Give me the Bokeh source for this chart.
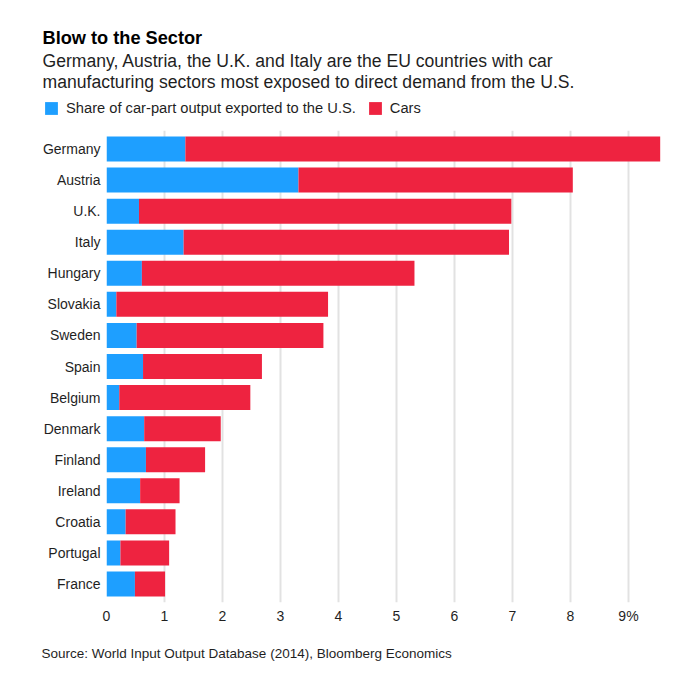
from bokeh.plotting import figure
from bokeh.layouts import column
from bokeh.models import ColumnDataSource, FactorRange, Range1d, FixedTicker, Label
from bokeh.embed import file_html
from bokeh.resources import INLINE

countries = ["Germany", "Austria", "U.K.", "Italy", "Hungary", "Slovakia", "Sweden", "Spain",
             "Belgium", "Denmark", "Finland", "Ireland", "Croatia", "Portugal", "France"]
car_parts = [1.36, 3.31, 0.56, 1.33, 0.61, 0.17, 0.52, 0.63, 0.22, 0.65, 0.68, 0.58, 0.33, 0.24, 0.49]
cars = [8.19, 4.73, 6.42, 5.61, 4.70, 3.65, 3.22, 2.05, 2.26, 1.32, 1.02, 0.68, 0.86, 0.84, 0.52]
series_labels = ["Share of car-part output exported to the U.S.", "Cars"]
x_ticks = [0, 1, 2, 3, 4, 5, 6, 7, 8, 9]
x_tick_labels = ["0", "1", "2", "3", "4", "5", "6", "7", "8", "9%"]
grid_ticks = [1, 2, 3, 4, 5, 6, 7, 8, 9]
title_text = "Blow to the Sector"
subtitle_lines = ["Germany, Austria, the U.K. and Italy are the EU countries with car",
                  "manufacturing sectors most exposed to direct demand from the U.S."]
source_text = "Source: World Input Output Database (2014), Bloomberg Economics"

FONT = "Liberation Sans"
BLUE = "#1e9fff"
RED = "#ee2340"
INK = "#1f1f1f"

W = 672
HEAD, CHART, FOOT = 130, 496, 48
LEFT, FRAME_H = 106, 472


def blank(height):
    # A figure whose frame fills it, for the text blocks above and below the chart
    f = figure(width=W, height=height, output_backend="svg", toolbar_location=None,
               x_range=Range1d(0, 1), y_range=Range1d(0, 1), x_axis_type=None, y_axis_type=None,
               min_border=0, outline_line_color=None, background_fill_color="white",
               border_fill_color="white", frame_align=False)
    f.title = None
    f.grid.visible = False
    return f


def text(f, x, y, s, size, weight="normal", color=INK):
    f.add_layout(Label(x=x, y=f.height - y, x_units="screen", y_units="screen", text=s, text_font=FONT,
                       text_font_size=size, text_font_style=weight, text_color=color,
                       text_baseline="alphabetic", text_align="left"))


head = blank(HEAD)
# Legend keys only: these bars lie outside the header's range, so just their swatches show
for label, colour in zip(series_labels, [BLUE, RED]):
    head.hbar(y=[-5], right=[1], height=1, color=colour, line_color=None, legend_label=label)

lg = head.legend[0]
lg.location = (43, HEAD - 116)
lg.orientation = "horizontal"
lg.glyph_width = 16
lg.glyph_height = 16
lg.label_standoff = 7
lg.spacing = 11
lg.padding = 0
lg.margin = 0
lg.border_line_color = None
lg.background_fill_alpha = 0
lg.label_text_font = FONT
lg.label_text_font_size = "14.7px"
lg.label_text_color = INK
lg.label_height = 16

text(head, 42, 37, title_text, "18.2px", "bold", "#000000")
text(head, 42, 60, subtitle_lines[0], "17.6px")
text(head, 42, 81, subtitle_lines[1], "17.6px")

# Chart
src = ColumnDataSource(dict(country=countries, parts=car_parts, cars=cars))
p = figure(width=W, height=CHART, output_backend="svg", toolbar_location=None,
           x_range=Range1d(0, 9.552),
           y_range=FactorRange(factors=countries[::-1], range_padding=0.095, range_padding_units="absolute"),
           min_border_left=LEFT, min_border_right=W - 660, min_border_top=0, min_border_bottom=CHART - FRAME_H,
           outline_line_color=None, background_fill_color="white", border_fill_color="white",
           frame_align=False)
p.title = None

p.hbar_stack(["parts", "cars"], y="country", height=0.805, color=[BLUE, RED], source=src, line_color=None)

p.ygrid.visible = False
p.xgrid.ticker = FixedTicker(ticks=grid_ticks)
p.xgrid.grid_line_color = "#e2e2e2"
p.xgrid.grid_line_width = 2

ax = p.xaxis[0]
ax.ticker = FixedTicker(ticks=x_ticks)
ax.major_label_overrides = {t: l for t, l in zip(x_ticks, x_tick_labels)}
ax.axis_line_color = None
ax.major_tick_line_color = None
ax.minor_tick_line_color = None
ax.major_label_text_font = FONT
ax.major_label_text_font_size = "14px"
ax.major_label_text_color = INK
ax.major_label_standoff = -1

ay = p.yaxis[0]
ay.axis_line_color = None
ay.major_tick_line_color = None
ay.minor_tick_line_color = None
ay.major_label_text_font = FONT
ay.major_label_text_font_size = "14px"
ay.major_label_text_color = INK
ay.major_label_standoff = 0

foot = blank(FOOT)
foot.scatter(x=[-5], y=[-5], size=1, color=INK)
text(foot, 41, 27, source_text, "13.5px")

page = column(head, p, foot, spacing=0)
open("out.html", "w").write(file_html(page, INLINE))
